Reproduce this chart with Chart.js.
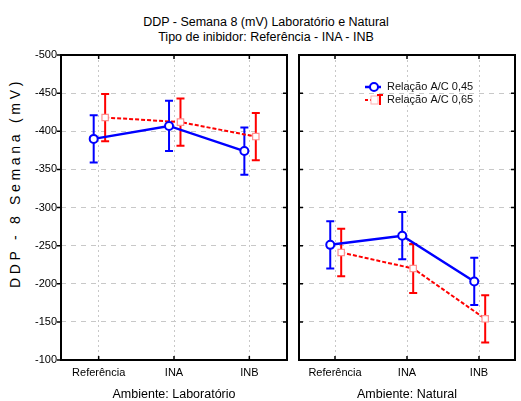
<!DOCTYPE html>
<html>
<head>
<meta charset="utf-8">
<script src="https://cdn.jsdelivr.net/npm/chart.js@4.4.0/dist/chart.umd.min.js"></script>
<style>
    body { margin: 0; background: #fff; width: 521px; height: 401px; position: relative; overflow: hidden; font-family: "Liberation Sans", Arial, sans-serif; color: #000; }
    .title { position: absolute; left: 0; width: 532px; text-align: center; font-size: 12.5px; line-height: 15px; }
    #ytitle { position: absolute; left: 15px; top: 183px; transform: translate(-50%, -50%) rotate(-90deg); white-space: nowrap; font-size: 14px; letter-spacing: 3.7px; }
    canvas { position: absolute; top: 0; }
</style>
</head>
<body>
<div class="title" style="top:15px">DDP - Semana 8 (mV) Laboratório e Natural</div>
<div class="title" style="top:30px">Tipo de inibidor: Referência - INA - INB</div>
<div id="ytitle">DDP - 8 Semana (mV)</div>
<canvas id="labChart" width="293" height="401" style="left:0"></canvas>
<canvas id="natChart" width="228" height="401" style="left:293px"></canvas>
<script>
"use strict";

const categories = ['Referência', 'INA', 'INB'];
const yTicks = [-500, -450, -400, -350, -300, -250, -200, -150, -100];

// Ambiente: Laboratório
const labMean045 = [-390, -407, -374];
const labErr045 = [31, 33, 31];
const labMean065 = [-418, -412, -393];
const labErr065 = [31, 31, 31];

// Ambiente: Natural
const natMean045 = [-251, -263, -203];
const natErr045 = [31, 31, 31];
const natMean065 = [-241, -220, -154];
const natErr065 = [31, 32, 31];

const seriesNames = ['Relação A/C 0,45', 'Relação A/C 0,65'];
const BLUE = '#0000ff';
const RED = '#ff0000';

function points(means, errs, shift) {
    return means.map(function (v, i) {
        return {x: i + shift, y: v, e: errs[i]};
    });
}

function makeDatasets(m1, e1, m2, e2) {
    return [{
        label: seriesNames[0],
        data: points(m1, e1, -0.066),
        borderColor: BLUE,
        borderWidth: 2.5,
        pointStyle: 'circle',
        pointRadius: 4,
        pointBorderWidth: 2,
        pointBackgroundColor: '#fff',
        pointBorderColor: BLUE
    }, {
        label: seriesNames[1],
        data: points(m2, e2, 0.086),
        borderColor: RED,
        borderWidth: 2,
        borderDash: [4, 2],
        pointStyle: 'rect',
        pointRadius: 4.5,
        pointBorderWidth: 1.2,
        pointBackgroundColor: '#fff',
        pointBorderColor: '#ff9090'
    }];
}

const errorBars = {
    id: 'errorBars',
    beforeDatasetsDraw(chart) {
        const ctx = chart.ctx;
        const ys = chart.scales.y;
        chart.data.datasets.forEach(function (ds, i) {
            const meta = chart.getDatasetMeta(i);
            ctx.save();
            ctx.strokeStyle = ds.borderColor;
            ctx.lineWidth = 2;
            meta.data.forEach(function (pt, j) {
                const d = ds.data[j];
                const top = ys.getPixelForValue(d.y - d.e);
                const bot = ys.getPixelForValue(d.y + d.e);
                ctx.beginPath();
                ctx.moveTo(pt.x, top); ctx.lineTo(pt.x, bot);
                ctx.moveTo(pt.x - 4, top); ctx.lineTo(pt.x + 4, top);
                ctx.moveTo(pt.x - 4, bot); ctx.lineTo(pt.x + 4, bot);
                ctx.stroke();
            });
            ctx.restore();
        });
    }
};

const frame = {
    id: 'frame',
    afterDraw(chart, args, opts) {
        const ctx = chart.ctx;
        const a = chart.chartArea;
        const ys = chart.scales.y, xs = chart.scales.x;
        ctx.save();
        ctx.strokeStyle = '#000';
        ctx.lineWidth = 2;
        ctx.strokeRect(a.left, a.top, a.right - a.left, a.bottom - a.top);
        ctx.lineWidth = 1.5;
        ctx.beginPath();
        yTicks.forEach(function (v) {
            const y = ys.getPixelForValue(v);
            if (opts.outside) { ctx.moveTo(a.left - 4, y); ctx.lineTo(a.left, y); }
            else { ctx.moveTo(a.left, y); ctx.lineTo(a.left + 4, y); }
            ctx.moveTo(a.right - 4, y); ctx.lineTo(a.right, y);
        });
        categories.forEach(function (c, i) {
            const x = xs.getPixelForValue(i);
            ctx.moveTo(x, a.bottom); ctx.lineTo(x, a.bottom - 4);
            ctx.moveTo(x, a.top); ctx.lineTo(x, a.top + 4);
        });
        ctx.stroke();
        ctx.restore();
    }
};

const legendBox = {
    id: 'legendBox',
    afterDraw(chart) {
        if (!chart.options.plugins.legendBox.show) return;
        const ctx = chart.ctx;
        const x0 = 72, tx = 94;
        const rows = [87, 100];
        ctx.save();
        // blue
        ctx.strokeStyle = BLUE; ctx.lineWidth = 2.5;
        ctx.beginPath(); ctx.moveTo(x0, rows[0]); ctx.lineTo(x0 + 16, rows[0]); ctx.stroke();
        ctx.fillStyle = '#fff'; ctx.lineWidth = 2;
        ctx.beginPath(); ctx.arc(x0 + 9, rows[0], 4, 0, Math.PI * 2); ctx.fill(); ctx.stroke();
        // red
        ctx.strokeStyle = RED; ctx.lineWidth = 2; ctx.setLineDash([3, 2]);
        ctx.beginPath(); ctx.moveTo(x0, rows[1]); ctx.lineTo(x0 + 9, rows[1]); ctx.stroke();
        ctx.setLineDash([]);
        ctx.strokeStyle = '#ffb0b0'; ctx.lineWidth = 1;
        ctx.fillRect(x0 + 6, rows[1] - 4, 7, 8); ctx.strokeRect(x0 + 6, rows[1] - 4, 7, 8);
        ctx.strokeStyle = RED; ctx.lineWidth = 2;
        ctx.beginPath();
        ctx.moveTo(x0 + 15, rows[1] - 5); ctx.lineTo(x0 + 15, rows[1] + 5);
        ctx.moveTo(x0 + 12, rows[1] - 5); ctx.lineTo(x0 + 18, rows[1] - 5);
        ctx.stroke();
        ctx.fillStyle = '#111';
        ctx.font = '11px "Liberation Sans", Arial, sans-serif';
        ctx.textBaseline = 'middle';
        ctx.fillText(seriesNames[0], tx, rows[0]);
        ctx.fillText(seriesNames[1], tx, rows[1]);
        ctx.restore();
    }
};

function makeOptions(axisTitle, showY, pad) {
    return {
        responsive: false,
        animation: false,
        devicePixelRatio: 1,
        layout: {padding: pad},
        plugins: {
            legend: {display: false},
            tooltip: {enabled: false},
            frame: {outside: showY},
            legendBox: {show: !showY}
        },
        scales: {
            x: {
                type: 'linear',
                min: -0.5,
                max: 2.5,
                afterBuildTicks: function (s) { s.ticks = categories.map(function (c, i) { return {value: i}; }); },
                afterFit: function (s) { s.height = 41; },
                ticks: {
                    callback: function (v) { return categories[v]; },
                    font: {size: 11, family: '"Liberation Sans", Arial, sans-serif'},
                    color: '#000',
                    padding: 6,
                    autoSkip: false,
                    maxRotation: 0
                },
                grid: {color: '#c8c8c8', drawTicks: false},
                border: {display: false, dash: [2, 3]},
                title: {
                    display: true,
                    text: axisTitle,
                    color: '#000',
                    font: {size: 12.5, lineHeight: 1.1, family: '"Liberation Sans", Arial, sans-serif'},
                    padding: {top: 0, bottom: 0}
                }
            },
            y: {
                min: -500,
                max: -100,
                reverse: true,
                afterBuildTicks: function (s) { s.ticks = yTicks.map(function (v) { return {value: v}; }); },
                afterFit: function (s) { s.width = showY ? 61 : 4; },
                ticks: {
                    display: showY,
                    font: {size: 11, family: '"Liberation Sans", Arial, sans-serif'},
                    color: '#000',
                    padding: 4
                },
                grid: {color: '#c8c8c8', drawTicks: false},
                border: {display: false, dash: [5, 5]}
            }
        }
    };
}

new Chart(document.getElementById('labChart'), {
    type: 'line',
    data: {datasets: makeDatasets(labMean045, labErr045, labMean065, labErr065)},
    options: makeOptions('Ambiente: Laboratório', true, {left: 0, right: 5, top: 55, bottom: 0}),
    plugins: [errorBars, frame, legendBox]
});

new Chart(document.getElementById('natChart'), {
    type: 'line',
    data: {datasets: makeDatasets(natMean045, natErr045, natMean065, natErr065)},
    options: makeOptions('Ambiente: Natural', false, {left: 0, right: 2, top: 55, bottom: 0}),
    plugins: [errorBars, frame, legendBox]
});
</script>
</body>
</html>
